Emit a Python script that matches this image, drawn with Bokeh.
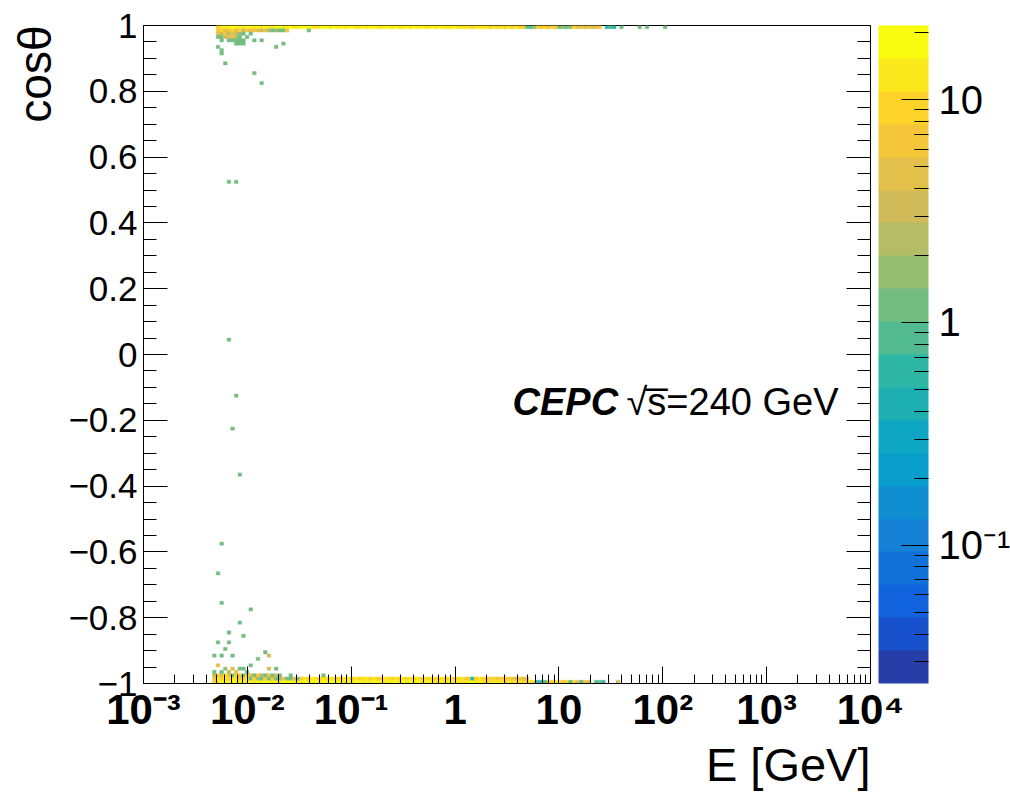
import numpy as np
from bokeh.plotting import figure
from bokeh.models import (LogColorMapper, ColorBar, FixedTicker, CustomJSTickFormatter,
                          LinearAxis, Label, Title, ColumnDataSource)
from bokeh.embed import file_html
from bokeh.resources import INLINE

# ---------------- histogram definition ----------------
E_MIN, E_MAX, N_EBINS = 1e-3, 1e4, 200
C_MIN, C_MAX, N_CBINS = -1.0, 1.0, 200
Z_LOW, Z_HIGH = 0.024, 21.5

# dense rows of the band at cos(theta) ~ +1 (first bin E, counts per consecutive E bin)
top_first_E = 0.0052
top_row_cos = [0.995, 0.985, 0.975, 0.965]
top_row1 = [9, 14, 18, 12, 16, 20, 15, 11, 17, 19, 14, 16, 12, 18, 15, 13, 17, 19, 14, 16,
            18, 15, 13, 17, 16, 19, 14, 12, 15, 18, 16, 13, 17, 15, 19, 14, 16, 18, 12, 15,
            17, 14, 16, 19, 13, 15, 18, 16, 14, 17, 12, 15, 18, 14, 16, 13, 17, 15, 12, 16,
            14, 17, 13, 15, 11, 16, 14, 12, 15, 13, 10, 14, 12, 11, 13, 9, 12, 10, 11, 8,
            12, 9, 11, 8, 10, 1.2, 0.9, 1.5, 9, 7, 10, 6, 8, 7, 1.3, 1.6, 1.1, 1.8, 8,
            5, 6, 4, 7, 5, 4, 6, 0, 0.7, 0.8, 0.6, 0, 1.2, 0, 0, 0, 0, 1.2, 0, 1.2, 0, 0, 0, 0, 1.2]
top_row2 = [6, 9, 4, 7, 10, 5, 8, 3, 6, 4, 7, 5, 3, 4, 2, 1.2, 1.5, 1.2, 1.3, 6, 0, 0, 0, 0, 0, 1.2]
top_row3 = [4, 3, 6, 2.5, 5, 3, 1.5, 1.2, 0, 1.2]
top_row4 = [1.2, 1.2, 3, 5, 4, 2, 1.2, 0, 1.2]

# dense rows of the band at cos(theta) ~ -1
bot_first_E = 0.0048
bot_row_cos = [-0.995, -0.985, -0.975]
bot_row1 = [8, 15, 19, 13, 17, 20, 16, 12, 18, 14, 19, 15, 17, 13, 16, 20, 14, 18, 15, 17,
            16, 19, 14, 17, 15, 18, 13, 16, 19, 15, 17, 14, 18, 16, 12, 17, 15, 19, 14, 16,
            18, 13, 16, 15, 19, 14, 17, 12, 15, 18, 16, 13, 17, 14, 16, 15, 18, 12, 14, 16,
            13, 15, 17, 12, 14, 16, 11, 15, 13, 14, 12, 16, 11, 13, 15, 10, 12, 14, 11, 13,
            10, 12, 9, 11, 13, 8, 10, 12, 9, 0.7, 0.6, 0.9, 7, 9, 11, 8, 6, 9, 0.8, 8,
            5, 0.8, 6, 4, 0, 0.9, 1.1, 0.7, 0, 0, 0, 3, 0, 0]
bot_row2 = [6, 12, 9, 15, 8, 11, 14, 7, 10, 13,
            1.2, 8, 1.5, 1.2, 9, 1.3, 6, 1.1, 1.6, 7, 1.2, 1.2, 5, 1.4,
            9, 12, 8, 11, 14, 10, 13, 9, 12, 15, 10, 8, 11, 13, 9, 12, 10, 14, 11, 9,
            12, 10, 8, 13, 11, 9, 12, 10, 14, 8, 11, 9, 13, 10, 12, 8, 11, 9, 10, 12,
            9, 11, 8, 10, 12, 9, 7, 0.7, 8, 11, 9, 7, 10, 8, 6, 9, 7, 8, 6, 5, 7, 4, 6]
bot_row3 = [3, 9, 5, 12, 7, 1.2, 10, 6, 1.2, 8, 4, 1.3, 7, 2, 1.2, 5, 1.2, 3, 1.2, 0, 0, 1.2]

# isolated cells (E [GeV], cos(theta), content)
iso_E = [0.0057, 0.0066, 0.0072, 0.0078, 0.0085, 0.0092, 0.0117, 0.0137,
         0.0078, 0.0085, 0.0092, 0.0222,
         0.0052, 0.0189, 0.0057, 0.0057, 0.0061, 0.0117, 0.0137,
         0.0066, 0.0078, 0.0066, 0.0078, 0.0072, 0.0085,
         0.0057, 0.0052, 0.0057, 0.0108, 0.0085, 0.0066, 0.0092, 0.0052, 0.0066,
         0.0061, 0.0148, 0.0048, 0.0057, 0.0072, 0.0161, 0.0126,
         0.0052, 0.0108, 0.0061, 0.0072, 0.0085, 0.0092, 0.0161, 0.0189,
         0.0048, 0.0057, 0.0066, 0.0078, 0.0099, 0.0532]
iso_cos = [0.955, 0.955, 0.955, 0.955, 0.955, 0.955, 0.955, 0.955,
           0.945, 0.945, 0.945, 0.945,
           0.935, 0.935, 0.925, 0.915, 0.885, 0.855, 0.825,
           0.525, 0.525, 0.045, -0.125, -0.225, -0.365,
           -0.575, -0.665, -0.755, -0.775, -0.815, -0.845, -0.855, -0.875, -0.875,
           -0.895, -0.905, -0.915, -0.915, -0.915, -0.915, -0.925,
           -0.945, -0.945, -0.955, -0.955, -0.955, -0.955, -0.955, -0.955,
           -0.965, -0.965, -0.965, -0.965, -0.965, -0.975]
iso_w = [1.2, 1.3, 1.2, 1.3, 1.2, 1.2, 1.2, 1.2,
         1.2, 1.3, 1.2, 1.2,
         1.2, 1.2, 1.2, 1.2, 1.2, 1.2, 1.2,
         1.2, 1.2, 1.2, 1.2, 1.2, 1.2,
         1.2, 1.2, 1.2, 1.2, 1.2, 1.2, 1.2, 1.2, 1.2,
         1.2, 1.2, 1.2, 1.2, 1.2, 3, 1.2,
         5, 1.2, 1.5, 4, 1.3, 1.2, 3, 1.2,
         1.2, 1.3, 2, 4, 1.2, 1.2]

# tick labels
x_ticks = [1e-3, 1e-2, 1e-1, 1, 10, 100, 1e3, 1e4]
x_tick_labels = ["10\u207b\u00b3", "10\u207b\u00b2", "10\u207b\u00b9", "1", "10",
                 "10\u00b2", "10\u00b3", "10\u2074"]
y_ticks = [-1, -0.8, -0.6, -0.4, -0.2, 0, 0.2, 0.4, 0.6, 0.8, 1]
y_tick_labels = ["\u22121", "\u22120.8", "\u22120.6", "\u22120.4", "\u22120.2", "0",
                 "0.2", "0.4", "0.6", "0.8", "1"]
z_ticks = [0.1, 1, 10]
z_tick_labels = ["10\u207b\u00b9", "1", "10"]

# ---------------- build cells ----------------
lg0 = np.log10(E_MIN)
lgw = (np.log10(E_MAX) - lg0) / N_EBINS
cw = (C_MAX - C_MIN) / N_CBINS


def ebin(E):
    return int(np.floor((np.log10(E) - lg0) / lgw + 1e-9))


def cbin(c):
    return int(np.floor((c - C_MIN) / cw + 1e-9))


cells = {"l": [], "r": [], "b": [], "t": [], "w": []}


def add_cell(i, j, w):
    if w <= 0:
        return
    cells["l"].append(10 ** (lg0 + i * lgw))
    cells["r"].append(10 ** (lg0 + (i + 1) * lgw))
    cells["b"].append(C_MIN + j * cw)
    cells["t"].append(C_MIN + (j + 1) * cw)
    cells["w"].append(w)


for first_E, rows_cos, rows in [(top_first_E, top_row_cos, [top_row1, top_row2, top_row3, top_row4]),
                                (bot_first_E, bot_row_cos, [bot_row1, bot_row2, bot_row3])]:
    i0 = ebin(first_E)
    for c, row in zip(rows_cos, rows):
        j = cbin(c)
        for k, w in enumerate(row):
            add_cell(i0 + k, j, w)

for E, c, w in zip(iso_E, iso_cos, iso_w):
    add_cell(ebin(E), cbin(c), w)

# ---------------- palette (ROOT kBird, 20 contours) ----------------
stops = [0.0, 0.125, 0.25, 0.375, 0.5, 0.625, 0.75, 0.875, 1.0]
red = [0.2082, 0.0592, 0.0780, 0.0232, 0.1802, 0.5301, 0.8186, 0.9956, 0.9764]
green = [0.1664, 0.3599, 0.5041, 0.6419, 0.7178, 0.7492, 0.7328, 0.7862, 0.9832]
blue = [0.5293, 0.8684, 0.8385, 0.7914, 0.6425, 0.4662, 0.3499, 0.1968, 0.0539]
palette = []
for lev in range(20):
    t = int((lev + 0.99) * 255 / 20) / 254.0
    rgb = [int(round(255 * np.interp(t, stops, ch))) for ch in (red, green, blue)]
    palette.append("#%02x%02x%02x" % tuple(rgb))

mapper = LogColorMapper(palette=palette, low=Z_LOW, high=Z_HIGH)

FONT = "Liberation Sans"


def js_lookup(ticks, labels, tol):
    pairs = ",".join("[%r,%r]" % (float(t), s) for t, s in zip(ticks, labels))
    return CustomJSTickFormatter(code="""
const pairs = [%s];
for (const [t, s] of pairs) { if (Math.abs(Math.log10(Math.abs(tick) + 1e-12) - Math.log10(Math.abs(t) + 1e-12)) < %f || Math.abs(tick - t) < 1e-6) return s; }
return '';
""" % (pairs, tol))


p = figure(x_axis_type="log", x_range=(E_MIN, E_MAX), y_range=(C_MIN, C_MAX),
           frame_width=727, frame_height=658,
           min_border_left=143, min_border_top=25, min_border_bottom=108, min_border_right=120,
           output_backend="svg", toolbar_location=None)
p.grid.visible = False
p.outline_line_color = "black"
p.outline_line_width = 1
p.background_fill_color = "white"
p.border_fill_color = "white"

src = ColumnDataSource(cells)
p.quad(left="l", right="r", bottom="b", top="t", source=src,
       fill_color={"field": "w", "transform": mapper},
       line_color={"field": "w", "transform": mapper}, line_width=0.4)

# ---- x axis ----
xmin = [k * 10.0 ** d for d in range(-3, 4) for k in range(2, 10)]
xa = p.xaxis[0]
xa.ticker = FixedTicker(ticks=x_ticks, minor_ticks=xmin)
xa.formatter = js_lookup(x_ticks, x_tick_labels, 0.01)
xa.major_label_text_font = FONT
xa.major_label_text_font_style = "bold"
xa.major_label_text_font_size = "42px"
xa.major_label_text_color = "black"
xa.major_label_standoff = 2
xa.major_tick_in = 17
xa.major_tick_out = 0
xa.minor_tick_in = 9
xa.minor_tick_out = 0
xa.axis_line_color = "black"
xa.major_tick_line_color = "black"
xa.minor_tick_line_color = "black"

# ---- y axis ----
ymin = [round(-1 + 0.05 * k, 2) for k in range(41)]
ya = p.yaxis[0]
ya.ticker = FixedTicker(ticks=y_ticks, minor_ticks=ymin)
ya.formatter = CustomJSTickFormatter(code="""
const labels = %r;
const i = Math.round((tick + 1) / 0.2);
return labels[i];
""" % y_tick_labels)
ya.major_label_text_font = FONT
ya.major_label_text_font_size = "35px"
ya.major_label_text_color = "black"
ya.major_label_standoff = 6
ya.major_tick_in = 24
ya.major_tick_out = 0
ya.minor_tick_in = 13
ya.minor_tick_out = 0
ya.axis_line_color = "black"

ra = LinearAxis(ticker=FixedTicker(ticks=y_ticks, minor_ticks=ymin),
                formatter=CustomJSTickFormatter(code="return '';"),
                major_tick_in=24, major_tick_out=0, minor_tick_in=13, minor_tick_out=0,
                major_label_standoff=0, major_label_text_font_size="1px",
                axis_line_color="black")
p.add_layout(ra, "right")

# ---- colour bar ----
cb_min = [k * 10.0 ** d for d in (-2, -1, 0, 1) for k in range(2, 10)]
cb = ColorBar(color_mapper=mapper,
              ticker=FixedTicker(ticks=z_ticks, minor_ticks=cb_min),
              formatter=js_lookup(z_ticks, z_tick_labels, 0.01),
              width=50, height=658, padding=0, label_standoff=10,
              major_label_text_font=FONT, major_label_text_font_size="40px",
              major_label_text_color="black",
              major_tick_in=27, major_tick_out=0, minor_tick_in=14, minor_tick_out=0,
              major_tick_line_color="black", minor_tick_line_color="black",
              bar_line_color=None, border_line_color=None, background_fill_color=None,
              location=(8, 0))
p.add_layout(cb, "right")

# ---- axis titles (at the axis ends, ROOT style) ----
p.add_layout(Title(text="E [GeV]", align="right", text_font=FONT, text_font_size="47px",
                   text_font_style="normal", text_color="black", standoff=0), "below")
p.add_layout(Title(text="cos\u03b8", align="right", text_font=FONT, text_font_size="46px",
                   text_font_style="normal", text_color="black", standoff=9), "left")

# ---- annotation ----
p.add_layout(Label(x=369, y=282, x_units="screen", y_units="screen", text="CEPC",
                   text_align="left", text_baseline="alphabetic",
                   text_font=FONT, text_font_style="bold italic", text_font_size="38px",
                   text_color="black"))
p.add_layout(Label(x=483, y=282, x_units="screen", y_units="screen", text="\u221as\u0305=240 GeV",
                   text_align="left", text_baseline="alphabetic",
                   text_font=FONT, text_font_size="38px", text_color="black"))

open("out.html", "w").write(file_html(p, INLINE))
